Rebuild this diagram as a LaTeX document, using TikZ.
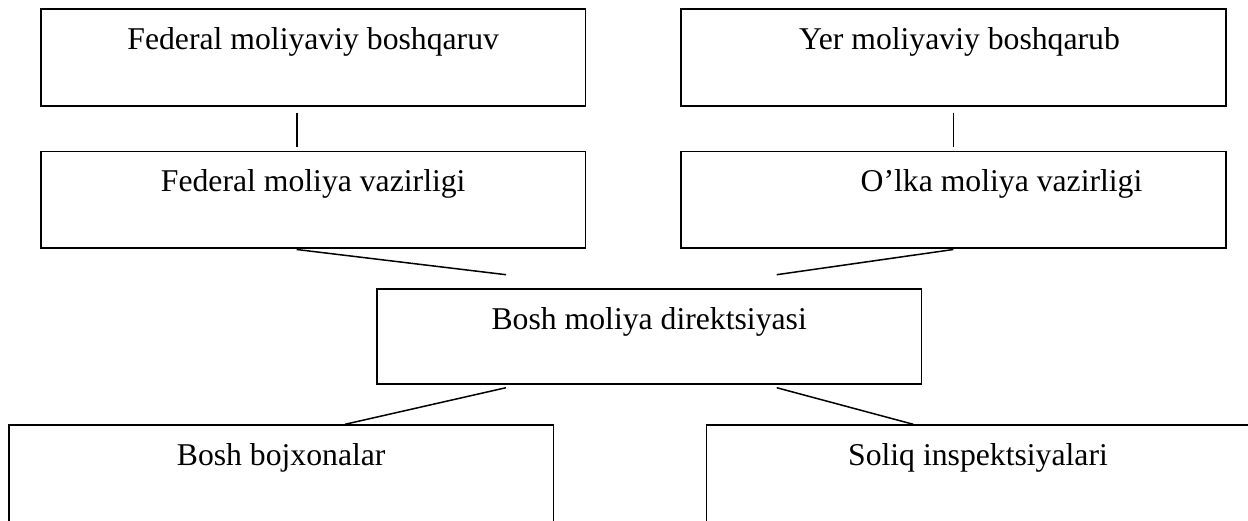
\documentclass[tikz,border=0pt]{standalone}
\usepackage{fontspec}
\setmainfont{Liberation Serif}
\usetikzlibrary{calc}
\begin{document}
\begin{tikzpicture}[x=0.5pt,y=-0.5pt,
  box/.style={draw, line width=0.9pt, rectangle, inner sep=0pt, outer sep=0pt,
    minimum width=272.2pt, minimum height=48.2pt, anchor=north west},
  lbl/.style={anchor=base, inner sep=0pt, font=\fontsize{15.85}{19}\selectfont},
  conn/.style={line width=0.75pt}]
\useasboundingbox (0,0) rectangle (1248,520);
\fill[white] (0,0) rectangle (1248,520);
\clip (0,0) rectangle (1248,520);
% boxes
\node[box] (b1) at (41,9.3) {};
\node[box] (b2) at (681.3,9.3) {};
\node[box] (b3) at (41,151.5) {};
\node[box] (b4) at (681.3,151.5) {};
\node[box, minimum height=47.8pt] (b5) at (377,288.7) {};
\node[box, minimum height=60pt] (b6) at (9,425) {};
\node[box, minimum height=60pt] (b7) at (706.5,425) {};
% labels
\node[lbl] (t1) at ($(b1.north)+(0,40)$) {Federal moliyaviy boshqaruv};
\node[lbl] (t2) at ($(b2.north)+(6,40)$) {Yer moliyaviy boshqarub};
\node[lbl] (t3) at ($(b3.north)+(0,40)$) {Federal moliya vazirligi};
\node[lbl] (t4) at ($(b4.north)+(48,40)$) {O’lka moliya vazirligi};
\node[lbl] (t5) at ($(b5.north)+(0,40.6)$) {Bosh moliya direktsiyasi};
\node[lbl] (t6) at ($(b6.north)+(0,40)$) {Bosh bojxonalar};
\node[lbl] (t7) at ($(b7.north west)+(271.5,40)$) {Soliq inspektsiyalari};
% connector ends
\coordinate (v1a) at (297,112.7);   \coordinate (v1b) at (297,146.7);
\coordinate (v2a) at (953.3,112.7); \coordinate (v2b) at (953.3,146.7);
\coordinate (s1a) at (296.7,249.5); \coordinate (s1b) at (506,274.7);
\coordinate (s2a) at (953.3,249.5); \coordinate (s2b) at (776.7,274.7);
\coordinate (s3a) at (506,387.7);   \coordinate (s3b) at (345,424.3);
\coordinate (s4a) at (776.7,387.7); \coordinate (s4b) at (913.3,424.3);
% connectors
\draw[conn] (v1a) -- (v1b);
\draw[conn] (v2a) -- (v2b);
\draw[conn] (s1a) -- (s1b);
\draw[conn] (s2a) -- (s2b);
\draw[conn] (s3a) -- (s3b);
\draw[conn] (s4a) -- (s4b);
\end{tikzpicture}
\end{document}
